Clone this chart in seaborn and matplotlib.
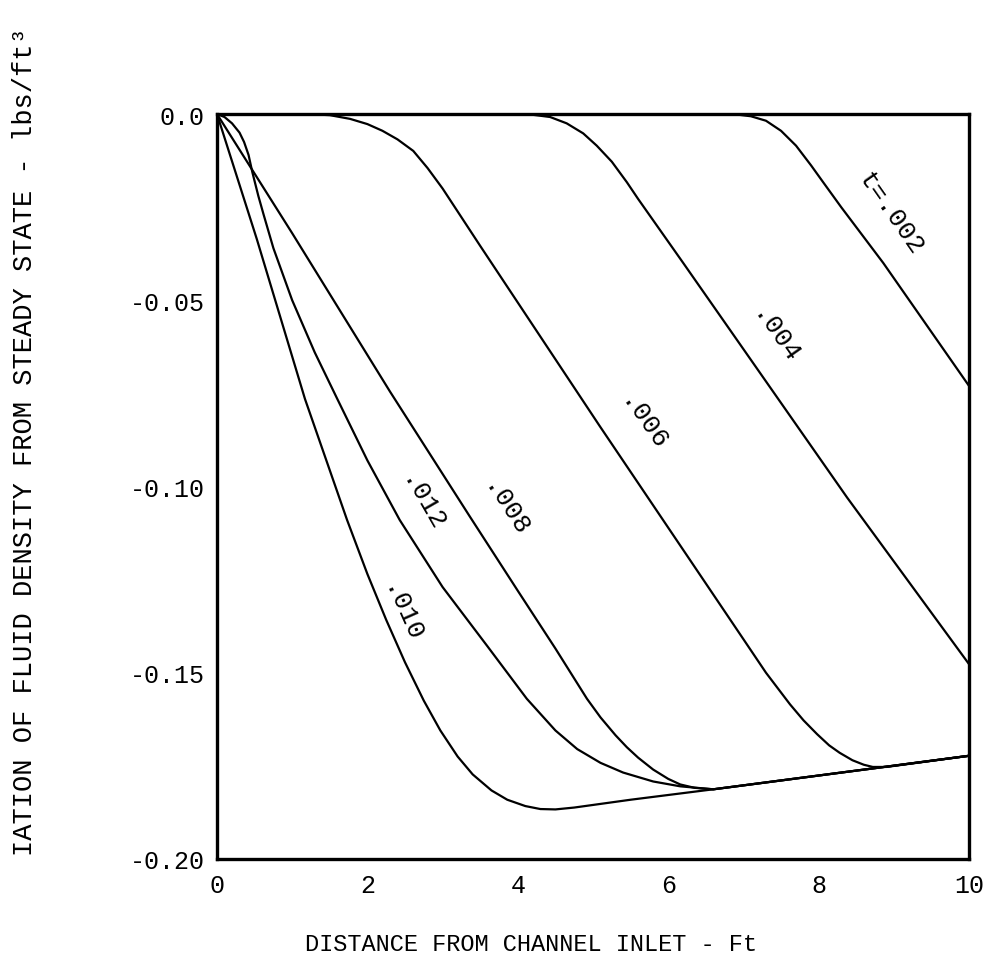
import numpy as np
import pandas as pd
import matplotlib
matplotlib.use("Agg")
import matplotlib.pyplot as plt
import seaborn as sns

# ---- data ----
x_002 = [6.6, 6.9, 7.1, 7.3, 7.5, 7.7, 7.9, 8.06, 8.3, 8.86, 10.0]
y_002 = [0.0, -0.0001, -0.0006, -0.0018, -0.0045, -0.0085, -0.0138, -0.0183, -0.025,
         -0.040, -0.073]

x_004 = [3.8, 4.2, 4.43, 4.65, 4.87, 5.05, 5.25, 5.45, 5.6, 6.2, 8.38, 10.0]
y_004 = [0.0, -0.0002, -0.0008, -0.0025, -0.0052, -0.0085, -0.0128, -0.0183, -0.0228,
         -0.040, -0.103, -0.1477]

x_006 = [1.2, 1.5, 1.77, 2.0, 2.2, 2.4, 2.61, 2.8, 3.0, 3.5, 5.09, 7.0, 7.3, 7.62, 7.8,
         7.98, 8.14, 8.28, 8.45, 8.6, 8.72, 8.9, 10.0]
y_006 = [0.0, -0.0003, -0.0013, -0.0027, -0.0045, -0.0068, -0.0099, -0.0145, -0.020,
         -0.0354, -0.0838, -0.141, -0.150, -0.1585, -0.1628, -0.1665, -0.1695, -0.1715,
         -0.1735, -0.1747, -0.1753, -0.1753, -0.1723]

x_008 = [0.0, 1.0, 2.3, 3.36, 4.0, 4.5, 4.92, 5.1, 5.3, 5.45, 5.6, 5.8, 6.0, 6.16,
         6.35, 6.6, 8.72, 10.0]
y_008 = [0.0, -0.032, -0.0745, -0.108, -0.128, -0.1435, -0.157, -0.162, -0.1668,
         -0.170, -0.1728, -0.176, -0.1785, -0.180, -0.1809, -0.1813, -0.1757, -0.1723]

x_010 = [0.0, 0.53, 1.17, 1.73, 2.0, 2.25, 2.5, 2.75, 2.97, 3.2, 3.4, 3.65, 3.86, 4.1,
         4.3, 4.5, 4.75, 5.5, 6.6, 8.72, 10.0]
y_010 = [0.0, -0.0336, -0.0765, -0.109, -0.1235, -0.1358, -0.1472, -0.1575, -0.1655,
         -0.1725, -0.1773, -0.1816, -0.1841, -0.1858, -0.1866, -0.1867, -0.1862,
         -0.1841, -0.1813, -0.1757, -0.1723]

x_012 = [0.0, 0.1, 0.2, 0.3, 0.36, 0.42, 0.47, 0.55, 0.62, 0.75, 1.0, 1.3, 1.6, 2.0,
         2.43, 3.0, 3.6, 4.12, 4.5, 4.79, 5.1, 5.4, 5.8, 6.16, 6.6, 8.72, 10.0]
y_012 = [0.0, -0.0008, -0.0025, -0.005, -0.0075, -0.011, -0.0156, -0.022, -0.027,
         -0.036, -0.050, -0.064, -0.0765, -0.093, -0.109, -0.127, -0.143, -0.157,
         -0.1655, -0.1705, -0.1742, -0.1768, -0.1792, -0.1805, -0.1813, -0.1757, -0.1723]

series = {
    ".002": (x_002, y_002),
    ".004": (x_004, y_004),
    ".006": (x_006, y_006),
    ".008": (x_008, y_008),
    ".010": (x_010, y_010),
    ".012": (x_012, y_012),
}

curve_labels = ["t=.002", ".004", ".006", ".008", ".012", ".010"]
label_x = [8.95, 7.42, 5.66, 3.83, 2.72, 2.45]
label_y = [-0.0265, -0.0595, -0.0830, -0.106, -0.1045, -0.134]
label_rot = [-55, -55, -55, -57, -60, -66]

x_ticks = [0, 2, 4, 6, 8, 10]
x_ticklabels = ["0", "2", "4", "6", "8", "10"]
y_ticks = [0.0, -0.05, -0.10, -0.15, -0.20]
y_ticklabels = ["0.0", "-0.05", "-0.10", "-0.15", "-0.20"]

frames = []
for name, (xs, ys) in series.items():
    frames.append(pd.DataFrame({"x": xs, "y": ys, "t": name}))
df = pd.concat(frames, ignore_index=True)

# ---- styling ----
sns.set_theme(style="white")
plt.rcParams["font.family"] = ["Liberation Mono", "DejaVu Sans Mono", "DejaVu Sans"]

fig = plt.figure(figsize=(9.99, 9.79), dpi=100)
ax = fig.add_axes([0.2172, 0.1216, 0.7528, 0.7609])

sns.lineplot(data=df, x="x", y="y", hue="t", units="t", estimator=None, sort=False,
             palette=["black"] * len(series), linewidth=1.6, legend=False, ax=ax)

ax.set_xlim(0, 10)
ax.set_ylim(-0.20, 0.0)
ax.set_xticks(x_ticks)
ax.set_xticklabels(x_ticklabels)
ax.set_yticks(y_ticks)
ax.set_yticklabels(y_ticklabels)

for sp in ax.spines.values():
    sp.set_visible(True)
    sp.set_color("black")
    sp.set_linewidth(2.4)

ax.tick_params(axis="both", direction="in", colors="black", width=2.0,
               labelsize=18, top=False, right=False)
ax.tick_params(axis="x", length=26, pad=10)
ax.tick_params(axis="y", length=22, pad=9)
ax.set_xlabel("")
ax.set_ylabel("")

for txt, lx, ly, rot in zip(curve_labels, label_x, label_y, label_rot):
    ax.text(lx, ly, txt, rotation=rot, rotation_mode="anchor", ha="center",
            va="center", fontsize=19, color="black")

fig.text(531 / 999, 1 - 945 / 979, "DISTANCE FROM CHANNEL INLET - Ft",
         ha="center", va="center", fontsize=17, color="black")
fig.text(25 / 999, 1 - 442 / 979, "IATION OF FLUID DENSITY FROM STEADY STATE - lbs/ft³",
         ha="center", va="center", rotation=90, fontsize=19.5, color="black")

fig.savefig("out.png", dpi=100, facecolor="white")
